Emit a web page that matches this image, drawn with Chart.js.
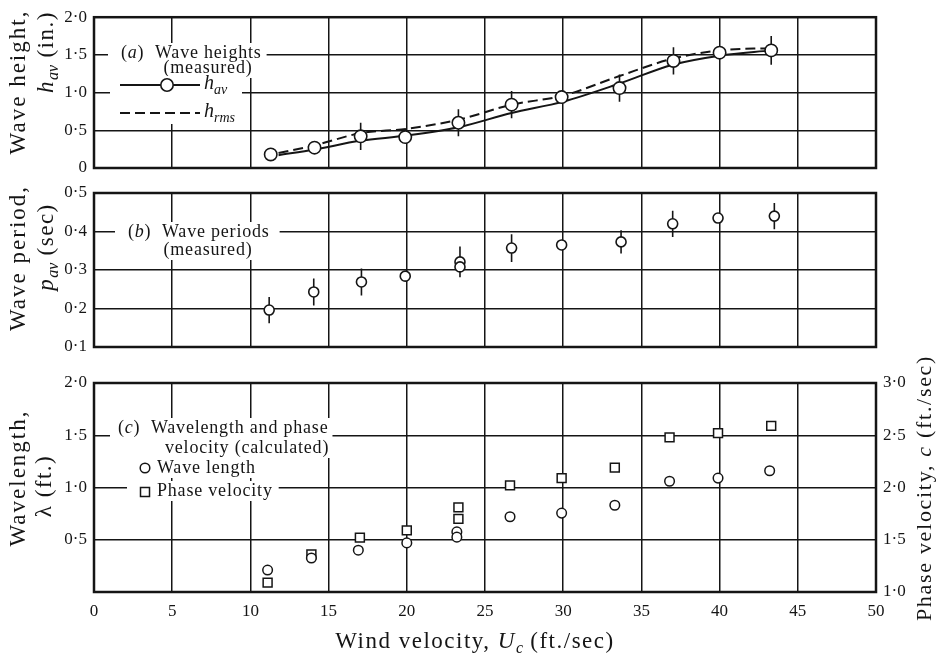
<!DOCTYPE html>
<html lang="en">
<head>
<meta charset="UTF-8" />
<title>Wave heights, periods and wavelength against wind velocity</title>
<script src="https://cdn.jsdelivr.net/npm/chart.js"></script>
<style>
  body { margin: 0; background: #fff; }
  #wrap { position: relative; width: 939px; height: 659px; }
  canvas { position: absolute; left: 0; top: 0; }
</style>
</head>
<body>
<div id="wrap">
  <canvas id="chartA" width="939" height="659"></canvas>
  <canvas id="chartB" width="939" height="659"></canvas>
  <canvas id="chartC" width="939" height="659"></canvas>
</div>
<script>
// (a) wave heights, measured (in.)
const windA = [11.3, 14.1, 17.05, 19.9, 23.3, 26.7, 29.9, 33.6, 37.05, 40.0, 43.3];
const hAv = [0.18, 0.27, 0.42, 0.41, 0.60, 0.84, 0.94, 1.06, 1.42, 1.53, 1.56];
const hAvErr = [0, 0, 0.18, 0, 0.18, 0.18, 0, 0.18, 0.18, 0, 0.19];
const curveWind = [11.8, 14.1, 17, 20, 23.3, 26.7, 30, 33.6, 37, 40, 43.3];
const hAvCurve = [0.17, 0.245, 0.36, 0.43, 0.54, 0.73, 0.88, 1.12, 1.37, 1.49, 1.56];
const hRmsCurve = [0.20, 0.30, 0.46, 0.52, 0.64, 0.84, 0.96, 1.22, 1.45, 1.56, 1.59];

// (b) wave periods, measured (sec)
const windB = [11.2, 14.05, 17.1, 19.9, 23.4, 23.4, 26.7, 29.9, 33.7, 37.0, 39.9, 43.5];
const pAv = [0.196, 0.243, 0.269, 0.284, 0.321, 0.308, 0.357, 0.365, 0.373, 0.42, 0.435, 0.44];
const pAvErr = [0.034, 0.035, 0.035, 0, 0.04, 0, 0.036, 0, 0.03, 0.034, 0, 0.034];

// (c) wavelength (ft.) and phase velocity (ft./sec), calculated
const windC = [11.1, 13.9, 16.9, 20.0, 23.2, 23.2, 26.6, 29.9, 33.3, 36.8, 39.9, 43.2];
const waveLength = [0.21, 0.325, 0.40, 0.47, 0.575, 0.525, 0.72, 0.755, 0.83, 1.06, 1.09, 1.16];
const windPhase = [11.1, 13.9, 17.0, 20.0, 23.3, 23.3, 26.6, 29.9, 33.3, 36.8, 39.9, 43.3];
const phaseVel = [1.09, 1.36, 1.52, 1.59, 1.81, 1.70, 2.02, 2.09, 2.19, 2.48, 2.52, 2.59];

// tick values
const xTicks = [0, 5, 10, 15, 20, 25, 30, 35, 40, 45, 50];
const yTicksA = [0, 0.5, 1.0, 1.5, 2.0];
const yTicksB = [0.1, 0.2, 0.3, 0.4, 0.5];
const yTicksC = [0.5, 1.0, 1.5, 2.0];
const yTicksC2 = [1.0, 1.5, 2.0, 2.5, 3.0];

const SERIF = '"Liberation Serif", "DejaVu Serif", serif';
const INK = '#151515';
const NOTE_SIZE = 18, NOTE_LS = 0.8;

function pts(xs, ys) { return xs.map((x, i) => ({ x: x, y: ys[i] })); }
function fmt(v) { return v === 0 ? '0' : v.toFixed(1).replace('.', '\u00b7'); }

// ---- rich text helpers (italic / subscript runs) ----
function fontOf(r, size) {
  return (r.it ? 'italic ' : '') + Math.round(r.sub ? size * 0.68 : size) + 'px ' + SERIF;
}
function measureRuns(ctx, runs, size, ls) {
  let w = 0;
  runs.forEach(r => {
    ctx.font = fontOf(r, size);
    ctx.letterSpacing = (r.sub ? 0 : ls) + 'px';
    w += ctx.measureText(r.t).width;
  });
  ctx.letterSpacing = '0px';
  return w;
}
function drawRuns(ctx, runs, x, y, size, ls, align) {
  const w = measureRuns(ctx, runs, size, ls);
  let cx = align === 'center' ? x - w / 2 : x;
  ctx.textBaseline = 'middle';
  ctx.textAlign = 'left';
  ctx.fillStyle = INK;
  runs.forEach(r => {
    ctx.font = fontOf(r, size);
    ctx.letterSpacing = (r.sub ? 0 : ls) + 'px';
    ctx.fillText(r.t, cx, r.sub ? y + size * 0.3 : y);
    cx += ctx.measureText(r.t).width;
  });
  ctx.letterSpacing = '0px';
  return w;
}
function rotated(ctx, runs, cx, cy, size, ls) {
  ctx.save();
  ctx.translate(cx, cy);
  ctx.rotate(-Math.PI / 2);
  drawRuns(ctx, runs, 0, 0, size, ls, 'center');
  ctx.restore();
}
// text lines sitting on white patches that hide the grid behind them
// items: [runs, x, y, align, padL, padR]
function notes(ctx, items) {
  const placed = items.map(([runs, x, y, align, padL, padR]) => {
    const w = measureRuns(ctx, runs, NOTE_SIZE, NOTE_LS);
    const left = align === 'center' ? x - w / 2 : x;
    return { runs, left, y, w, padL, padR };
  });
  ctx.fillStyle = '#fff';
  placed.forEach(p => ctx.fillRect(p.left - p.padL, p.y - 10, p.w + p.padL + p.padR, 20));
  placed.forEach(p => drawRuns(ctx, p.runs, p.left, p.y, NOTE_SIZE, NOTE_LS, 'left'));
}
function frame(chart) {
  const a = chart.chartArea, ctx = chart.ctx;
  ctx.save();
  ctx.strokeStyle = INK;
  ctx.lineWidth = 2.5;
  ctx.strokeRect(a.left, a.top, a.right - a.left, a.bottom - a.top);
  ctx.restore();
}
function errorBars(chart, dsIndex, errs) {
  const ctx = chart.ctx, meta = chart.getDatasetMeta(dsIndex);
  const xs = chart.scales[meta.xAxisID], ys = chart.scales[meta.yAxisID];
  ctx.save();
  ctx.strokeStyle = INK;
  ctx.lineWidth = 1.6;
  ctx.beginPath();
  chart.data.datasets[dsIndex].data.forEach((p, i) => {
    const e = errs[i];
    if (!e) return;
    const px = xs.getPixelForValue(p.x);
    ctx.moveTo(px, ys.getPixelForValue(p.y + e));
    ctx.lineTo(px, ys.getPixelForValue(p.y - e));
  });
  ctx.stroke();
  ctx.restore();
}

const GRID = { color: INK, lineWidth: 1.5, drawTicks: false };
const TICK_FONT = { family: SERIF, size: 17 };

function xScale(labels) {
  return {
    type: 'linear', min: 0, max: 50,
    afterBuildTicks: s => { s.ticks = xTicks.map(v => ({ value: v })); },
    afterFit: s => { s.height = labels ? 67 : 0; },
    grid: GRID,
    border: { display: false },
    ticks: { display: labels, color: INK, font: TICK_FONT, padding: 9, maxRotation: 0, callback: v => String(v) }
  };
}
function yScale(min, max, ticks, pos, width, grid) {
  return {
    type: 'linear', min: min, max: max, position: pos,
    afterBuildTicks: s => { s.ticks = ticks.map(v => ({ value: v })); },
    afterFit: s => { s.width = width; },
    grid: grid ? GRID : { display: false, drawTicks: false },
    border: { display: false },
    ticks: { color: INK, font: TICK_FONT, padding: 7, callback: v => fmt(v) }
  };
}
const BASE = { responsive: false, animation: false, events: [], plugins: { legend: { display: false }, tooltip: { enabled: false } } };

// ---- (a) wave heights ----
new Chart(document.getElementById('chartA'), {
  type: 'scatter',
  data: {
    datasets: [
      { data: pts(windA, hAv), pointRadius: 6.2, pointBackgroundColor: '#fff', pointBorderColor: INK, pointBorderWidth: 1.6 },
      { data: pts(curveWind, hAvCurve), showLine: true, pointRadius: 0, borderColor: INK, borderWidth: 2, cubicInterpolationMode: 'monotone' },
      { data: pts(curveWind, hRmsCurve), showLine: true, pointRadius: 0, borderColor: INK, borderWidth: 2, borderDash: [10, 5], cubicInterpolationMode: 'monotone' }
    ]
  },
  options: Object.assign({}, BASE, {
    layout: { padding: { top: 15, right: 63, bottom: 491, left: 0 } },
    scales: { x: xScale(false), y: yScale(0, 2, yTicksA, 'left', 94, true) }
  }),
  plugins: [{
    id: 'panelA',
    beforeDatasetsDraw(chart) {
      const ctx = chart.ctx;
      errorBars(chart, 0, hAvErr);
      notes(ctx, [
        [[{ t: '(' }, { t: 'a', it: 1 }, { t: ')  Wave heights' }], 121, 53, 'left', 13, 5],
        [[{ t: '(measured)' }], 208, 68, 'center', 8, 8]
      ]);
      ctx.fillStyle = '#fff';
      ctx.fillRect(110, 76, 132, 48);
      ctx.save();
      ctx.strokeStyle = INK; ctx.lineWidth = 2;
      ctx.beginPath(); ctx.moveTo(120, 85); ctx.lineTo(200, 85); ctx.stroke();
      ctx.setLineDash([10, 5]);
      ctx.beginPath(); ctx.moveTo(120, 113); ctx.lineTo(200, 113); ctx.stroke();
      ctx.setLineDash([]);
      ctx.fillStyle = '#fff'; ctx.lineWidth = 1.6;
      ctx.beginPath(); ctx.arc(167, 85, 6.2, 0, Math.PI * 2); ctx.fill(); ctx.stroke();
      ctx.restore();
      drawRuns(ctx, [{ t: 'h', it: 1 }, { t: 'av', it: 1, sub: 1 }], 204, 84, 20, 0, 'left');
      drawRuns(ctx, [{ t: 'h', it: 1 }, { t: 'rms', it: 1, sub: 1 }], 204, 112, 20, 0, 'left');
    },
    afterDraw(chart) {
      const ctx = chart.ctx;
      frame(chart);
      rotated(ctx, [{ t: 'Wave height,' }], 19, 82, 23, 2);
      rotated(ctx, [{ t: 'h', it: 1 }, { t: 'av', it: 1, sub: 1 }, { t: ' (in.)' }], 47, 52, 23, 1.5);
    }
  }]
});

// ---- (b) wave periods ----
new Chart(document.getElementById('chartB'), {
  type: 'scatter',
  data: {
    datasets: [
      { data: pts(windB, pAv), pointRadius: 5, pointBackgroundColor: '#fff', pointBorderColor: INK, pointBorderWidth: 1.6 }
    ]
  },
  options: Object.assign({}, BASE, {
    layout: { padding: { top: 193, right: 63, bottom: 312, left: 0 } },
    scales: { x: xScale(false), y: yScale(0.1, 0.5, yTicksB, 'left', 94, true) }
  }),
  plugins: [{
    id: 'panelB',
    beforeDatasetsDraw(chart) {
      const ctx = chart.ctx;
      errorBars(chart, 0, pAvErr);
      notes(ctx, [
        [[{ t: '(' }, { t: 'b', it: 1 }, { t: ')  Wave periods' }], 128, 232, 'left', 13, 10],
        [[{ t: '(measured)' }], 208, 250, 'center', 8, 8]
      ]);
    },
    afterDraw(chart) {
      const ctx = chart.ctx;
      frame(chart);
      rotated(ctx, [{ t: 'Wave period,' }], 19, 258, 23, 2);
      rotated(ctx, [{ t: 'p', it: 1 }, { t: 'av', it: 1, sub: 1 }, { t: ' (sec)' }], 47, 247, 23, 1.5);
    }
  }]
});

// ---- (c) wavelength and phase velocity ----
new Chart(document.getElementById('chartC'), {
  type: 'scatter',
  data: {
    datasets: [
      { data: pts(windC, waveLength), yAxisID: 'y', pointRadius: 4.8, pointBackgroundColor: '#fff', pointBorderColor: INK, pointBorderWidth: 1.5 },
      { data: pts(windPhase, phaseVel), yAxisID: 'y2', pointStyle: 'rect', pointRadius: 6.3, pointBackgroundColor: '#fff', pointBorderColor: INK, pointBorderWidth: 1.5 }
    ]
  },
  options: Object.assign({}, BASE, {
    layout: { padding: { top: 383, right: 0, bottom: 0, left: 0 } },
    scales: {
      x: xScale(true),
      y: yScale(0, 2, yTicksC, 'left', 94, true),
      y2: yScale(1, 3, yTicksC2, 'right', 63, false)
    }
  }),
  plugins: [{
    id: 'panelC',
    beforeDatasetsDraw(chart) {
      const ctx = chart.ctx;
      notes(ctx, [
        [[{ t: '(' }, { t: 'c', it: 1 }, { t: ')  Wavelength and phase' }], 118, 428, 'left', 8, 4],
        [[{ t: 'velocity (calculated)' }], 165, 448, 'left', 30, 6],
        [[{ t: 'Wave length' }], 157, 468, 'left', 30, 8],
        [[{ t: 'Phase velocity' }], 157, 491, 'left', 30, 6]
      ]);
      ctx.save();
      ctx.strokeStyle = INK; ctx.lineWidth = 1.5; ctx.fillStyle = '#fff';
      ctx.beginPath(); ctx.arc(145, 468, 4.8, 0, Math.PI * 2); ctx.fill(); ctx.stroke();
      ctx.strokeRect(140.5, 487.5, 9, 9);
      ctx.restore();
    },
    afterDraw(chart) {
      const ctx = chart.ctx;
      frame(chart);
      rotated(ctx, [{ t: 'Wavelength,' }], 19, 478, 23, 2);
      rotated(ctx, [{ t: '\u03bb (ft.)' }], 45, 486, 23, 1.5);
      rotated(ctx, [{ t: 'Phase velocity, ' }, { t: 'c', it: 1 }, { t: ' (ft./sec)' }], 925, 488, 22, 1.7);
      drawRuns(ctx, [{ t: 'Wind velocity, ' }, { t: 'U', it: 1 }, { t: 'c', it: 1, sub: 1 }, { t: ' (ft./sec)' }], 475, 642, 23, 1.5, 'center');
    }
  }]
});
</script>
</body>
</html>
